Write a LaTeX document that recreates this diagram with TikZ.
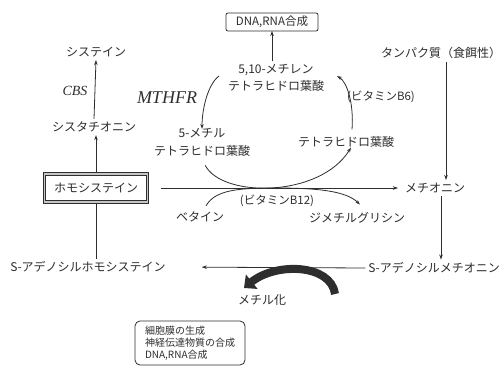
\documentclass[tikz,border=0pt]{standalone}
\usepackage{fontspec}
\setmainfont{Noto Sans CJK JP}
\newfontfamily\latinserif{Liberation Serif}
\usetikzlibrary{arrows.meta}
\definecolor{ink}{HTML}{2E2E2E}
\begin{document}
\begin{tikzpicture}[x=1pt,y=-1pt,
  every node/.style={text=ink, inner sep=1pt, outer sep=2pt},
  lbl/.style={font=\fontsize{12}{17}\selectfont},
  enz/.style={font=\latinserif\itshape\fontsize{14}{16}\selectfont},
  ar/.style={draw=ink, line width=0.8pt, -{Stealth[length=5pt,width=3.5pt]}},
  ln/.style={draw=ink, line width=0.8pt},
  homobox/.style={lbl, draw=ink, line width=1pt, double=gray!45, double distance=1.3pt, minimum width=103pt, minimum height=28pt, outer sep=1pt},
  dnabox/.style={font=\fontsize{11.5}{13}\selectfont, draw=ink, line width=0.8pt, rounded corners=2pt, minimum width=92pt, minimum height=18pt, inner sep=1pt, outer sep=0pt},
  funcbox/.style={font=\fontsize{10}{12}\selectfont, draw=ink, line width=0.8pt, rounded corners=5pt, minimum width=110pt, minimum height=44pt, align=left, outer sep=0pt}
]
\useasboundingbox[fill=white] (0,0) rectangle (500,366);

% left column
\node[lbl] (cys) at (96,52) {システイン};
\node[enz] (cbs) at (75,91) {CBS};
\node[lbl] (cysta) at (94,127) {シスタチオニン};
\node[homobox] (homo) at (96,188) {ホモシステイン};
\node[lbl] (sah) at (88,267) {S-アデノシルホモシステイン};

% folate cycle
\node[dnabox] (dna) at (272,22) {DNA,RNA合成};
\node[lbl, align=center] (mthf) at (276,78) {5,10-メチレン\\テトラヒドロ葉酸};
\node[enz, font=\latinserif\itshape\fontsize{18}{20}\selectfont] (mthfr) at (167,98) {MTHFR};
\node[lbl, align=center, font=\fontsize{12}{18}\selectfont] (methylthf) at (202,142) {5-メチル\\テトラヒドロ葉酸};
\node[lbl] (thf) at (346,142) {テトラヒドロ葉酸};
\node[lbl, font=\fontsize{11.5}{14}\selectfont] (b6) at (381,97) {(ビタミンB6)};

% right column
\node[lbl] (prot) at (441,53) {タンパク質（食餌性）};
\node[lbl] (met) at (435,188) {メチオニン};
\node[lbl] (sam) at (434,268) {S-アデノシルメチオニン};

% betaine route
\node[lbl] (bet) at (200,217) {ベタイン};
\node[lbl, font=\fontsize{11.5}{14}\selectfont] (b12) at (277,201) {(ビタミンB12)};
\node[lbl] (dmg) at (357,218) {ジメチルグリシン};

% methylation
\node[lbl] (methyl) at (262,300) {メチル化};
\node[funcbox] (func) at (190,343) {細胞膜の生成\\神経伝達物質の合成\\DNA,RNA合成};

% connectors, left column
\draw[ar] (cysta.north) -- (cys.south);
\draw[ar] (homo.north) -- (homo.north |- cysta.south);
\draw[ln] (homo.south) -- (homo.south |- sah.north);

% main line homocysteine -> methionine
\draw[ar, shorten <=12pt, shorten >=4pt] (homo.east) -- (met.west);

% SAM -> SAH
\draw[ar, shorten >=33pt] (sam.west) -- (sah.east);

% right column
\draw[ar] ([xshift=5pt]prot.south) -- ([xshift=5pt]prot.south |- met.north);
\draw[ar] ([xshift=6pt]met.south) -- ([xshift=6pt]met.south |- sam.north);

% folate
\draw[ar] (mthf.north -| dna.south) -- (dna.south);
\draw[ar] ([xshift=-6pt, yshift=2pt]mthf.west) .. controls +(-11,8) and +(0,-20) .. ([yshift=-4pt]methylthf.north);
\draw[ar] ([xshift=6pt, yshift=4pt]thf.north) .. controls +(2,-26) and +(10,6) .. ([xshift=10pt, yshift=2pt]mthf.east);
\draw[ar, shorten <=7pt] (methylthf.south) .. controls (222,198) and (320,198) .. ([xshift=5pt, yshift=3pt]thf.south);
\draw[ar] ([xshift=6pt, yshift=3pt]bet.north) .. controls (215,190) and (238,188) .. (275,188) .. controls (318,188) and (346,191) .. ([xshift=3pt, yshift=5pt]dmg.north);

% methylation arrow
\draw[ink, line width=8pt, line cap=butt, -{Triangle[length=10pt,width=18pt]}] (335,294) .. controls (331,264) and (276,262) .. (244,288);
\end{tikzpicture}
\end{document}
